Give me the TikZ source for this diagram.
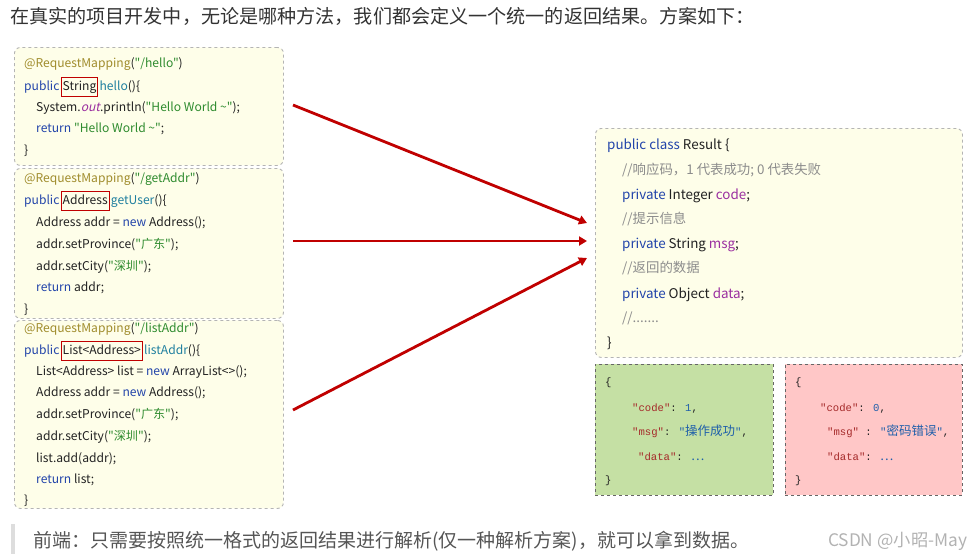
\documentclass[tikz,border=0pt]{standalone}
\usepackage{fontspec}
\setmainfont{Noto Sans CJK SC}
\newfontfamily\jmono{Liberation Mono}
\newfontfamily\cjk{Noto Sans CJK SC}
\newfontfamily\codef{Noto Sans CJK SC}
\newfontfamily\codeit{Noto Sans CJK SC}[FakeSlant=0.22]
\usetikzlibrary{arrows.meta}
\definecolor{anncol}{HTML}{A08C2C}
\definecolor{strcol}{HTML}{2E8B2E}
\definecolor{kwcol}{HTML}{2244AA}
\definecolor{mtcol}{HTML}{1F7F9F}
\definecolor{fldcol}{HTML}{9B2FA0}
\definecolor{cmtcol}{HTML}{8C8C8C}
\definecolor{txtcol}{HTML}{222222}
\definecolor{hdcol}{HTML}{333333}
\definecolor{boxgray}{HTML}{B4B4B4}
\definecolor{codeyellow}{HTML}{FEFEE9}
\definecolor{okgreen}{HTML}{C5E0A4}
\definecolor{errpink}{HTML}{FFC7C7}
\definecolor{arrred}{HTML}{C00000}
\definecolor{hlred}{HTML}{C00000}
\definecolor{jkey}{HTML}{A52A2A}
\definecolor{jval}{HTML}{1F5FAA}
\definecolor{footcol}{HTML}{555555}
\definecolor{barcol}{HTML}{DDDDDD}
\newcommand{\an}[1]{\textcolor{anncol}{#1}}
\newcommand{\st}[1]{\textcolor{strcol}{#1}}
\newcommand{\kw}[1]{\textcolor{kwcol}{#1}}
\newcommand{\mt}[1]{\textcolor{mtcol}{#1}}
\newcommand{\fd}[1]{\textcolor{fldcol}{#1}}
\newcommand{\cm}[1]{\textcolor{cmtcol}{#1}}
\newcommand{\jk}[1]{\textcolor{jkey}{#1}}
\newcommand{\jv}[1]{\textcolor{jval}{#1}}
\newcommand{\jc}[1]{{\cjk\fontsize{12.5}{14}\selectfont #1}}
\begin{document}
\begin{tikzpicture}[x=1pt,y=-1pt,
  codebox/.style={draw=boxgray, dashed, rounded corners=6pt, fill=codeyellow, line width=0.9pt, anchor=north west, inner sep=0pt},
  jsonbox/.style={draw=black!60, dashed, line width=0.9pt, anchor=north west, inner sep=0pt},
  txt/.style={anchor=base west, inner sep=0pt, text=txtcol, font=\codef\fontsize{12.1}{14}\selectfont},
  rtxt/.style={anchor=base west, inner sep=0pt, text=txtcol, font=\codef\fontsize{13.4}{15}\selectfont},
  jtxt/.style={anchor=base west, inner sep=0pt, text=txtcol, font=\jmono\fontsize{10.6}{13}\selectfont},
  hl/.style={draw=hlred, line width=1.1pt, anchor=base west, inner xsep=1.5pt, inner ysep=3.5pt, text height=9pt, text depth=3pt, text=txtcol, font=\codef\fontsize{12.1}{14}\selectfont},
  arr/.style={draw=arrred, line width=2.8pt, -{Triangle[length=8pt,width=9pt]}}
]
\useasboundingbox (0,0) rectangle (980,558);

% header
\node[anchor=base west, inner sep=0pt, text=hdcol, font=\fontsize{19.1}{22}\selectfont] (head) at (10,23) {在真实的项目开发中，无论是哪种方法，我们都会定义一个统一的返回结果。方案如下：};

% boxes
\node[codebox, minimum width=269pt, minimum height=118pt] (b1) at (14,47) {};
\node[codebox, minimum width=269pt, minimum height=150pt] (b2) at (14,168) {};
\node[codebox, minimum width=269pt, minimum height=188pt] (b3) at (14,320) {};
\node[codebox, minimum width=367pt, minimum height=229pt] (res) at (595,128) {};
\node[jsonbox, fill=okgreen, minimum width=178pt, minimum height=131pt] (ok) at (595,364) {};
\node[jsonbox, fill=errpink, minimum width=177pt, minimum height=131pt] (err) at (785,364) {};

% box 1
\node[txt] (a1) at (24,67) {\an{@RequestMapping}(\st{"/hello"})};
\node[txt] (a2a) at (24,90) {\kw{public}};
\node[hl] (a2b) at ([xshift=1pt]a2a.base east) {String};
\node[txt] (a2c) at ([xshift=1pt]a2b.base east) {\mt{hello}()\{};
\node[txt] (a3) at (36,111) {System.\fd{{\codeit out}}.println(\st{"Hello World \textasciitilde"});};
\node[txt] (a4) at (36,132) {\kw{return} \st{"Hello World \textasciitilde"};};
\node[txt] (a5) at (24,154) {\}};

% box 2
\node[txt] (c1) at (24,182) {\an{@RequestMapping}(\st{"/getAddr"})};
\node[txt] (c2a) at (24,204) {\kw{public}};
\node[hl] (c2b) at ([xshift=1pt]c2a.base east) {Address};
\node[txt] (c2c) at ([xshift=1pt]c2b.base east) {\mt{getUser}()\{};
\node[txt] (c3) at (36,226) {Address addr = \kw{new} Address();};
\node[txt] (c4) at (36,248) {addr.setProvince(\st{"广东"});};
\node[txt] (c5) at (36,270) {addr.setCity(\st{"深圳"});};
\node[txt] (c6) at (36,291) {\kw{return} addr;};
\node[txt] (c7) at (24,313) {\}};

% box 3
\node[txt] (d1) at (24,332) {\an{@RequestMapping}(\st{"/listAddr"})};
\node[txt] (d2a) at (24,354) {\kw{public}};
\node[hl] (d2b) at ([xshift=1pt]d2a.base east) {List<Address>};
\node[txt] (d2c) at ([xshift=1pt]d2b.base east) {\mt{listAddr}()\{};
\node[txt] (d3) at (36,375) {List<Address> list = \kw{new} ArrayList<>();};
\node[txt] (d4) at (36,396) {Address addr = \kw{new} Address();};
\node[txt] (d5) at (36,418) {addr.setProvince(\st{"广东"});};
\node[txt] (d6) at (36,440) {addr.setCity(\st{"深圳"});};
\node[txt] (d7) at (36,462) {list.add(addr);};
\node[txt] (d8) at (36,483) {\kw{return} list;};
\node[txt] (d9) at (24,504) {\}};

% result class
\node[rtxt] (r1) at (607,149) {\kw{public class} Result \{};
\node[rtxt] (r2) at (622,174) {\cm{//响应码，1 代表成功; 0 代表失败}};
\node[rtxt] (r3) at (622,199) {\kw{private} Integer \fd{code};};
\node[rtxt] (r4) at (622,223) {\cm{//提示信息}};
\node[rtxt] (r5) at (622,248) {\kw{private} String \fd{msg};};
\node[rtxt] (r6) at (622,272) {\cm{//返回的数据}};
\node[rtxt] (r7) at (622,298) {\kw{private} Object \fd{data};};
\node[rtxt] (r8) at (622,322) {\cm{//.......}};
\node[rtxt] (r9) at (607,347) {\}};

% json ok
\node[jtxt] (o1) at (605,385) {\{};
\node[jtxt] (o2) at (632,411) {\jk{"code"}: \jv{1},};
\node[jtxt] (o3) at (632,435) {\jk{"msg"}: \jv{"\jc{操作成功}"},};
\node[jtxt] (o4) at (638,460) {\jk{"data"}: \jv{\jc{…}}};
\node[jtxt] (o5) at (605,483) {\}};

% json err
\node[jtxt] (e1) at (795,385) {\{};
\node[jtxt] (e2) at (820,411) {\jk{"code"}: \jv{0},};
\node[jtxt] (e3) at (827,435) {\jk{"msg"} : \jv{"\jc{密码错误}"},};
\node[jtxt] (e4) at (827,460) {\jk{"data"}: \jv{\jc{…}}};
\node[jtxt] (e5) at (795,483) {\}};

% arrows
\coordinate (s1) at (293,105);
\coordinate (s2) at (293,241);
\coordinate (s3) at (293,410);
\coordinate (t1) at (587,223);
\coordinate (t2) at (587,241);
\coordinate (t3) at (587,258);
\draw[arr] (s1) -- (t1);
\draw[arr] (s2) -- (t2);
\draw[arr] (s3) -- (t3);

% footer
\node[fill=barcol, inner sep=0pt, minimum width=4pt, minimum height=30pt, anchor=north west] (bar) at (11,524) {};
\node[anchor=base west, inner sep=0pt, text=footcol, font=\fontsize{19}{22}\selectfont] (foot) at (33,547) {前端：只需要按照统一格式的返回结果进行解析(仅一种解析方案)，就可以拿到数据。};
\node[anchor=base west, inner sep=0pt, text=black!30, font=\fontsize{17.3}{19}\selectfont] (csdn) at (828,546) {CSDN @小昭-May};
\end{tikzpicture}
\end{document}
